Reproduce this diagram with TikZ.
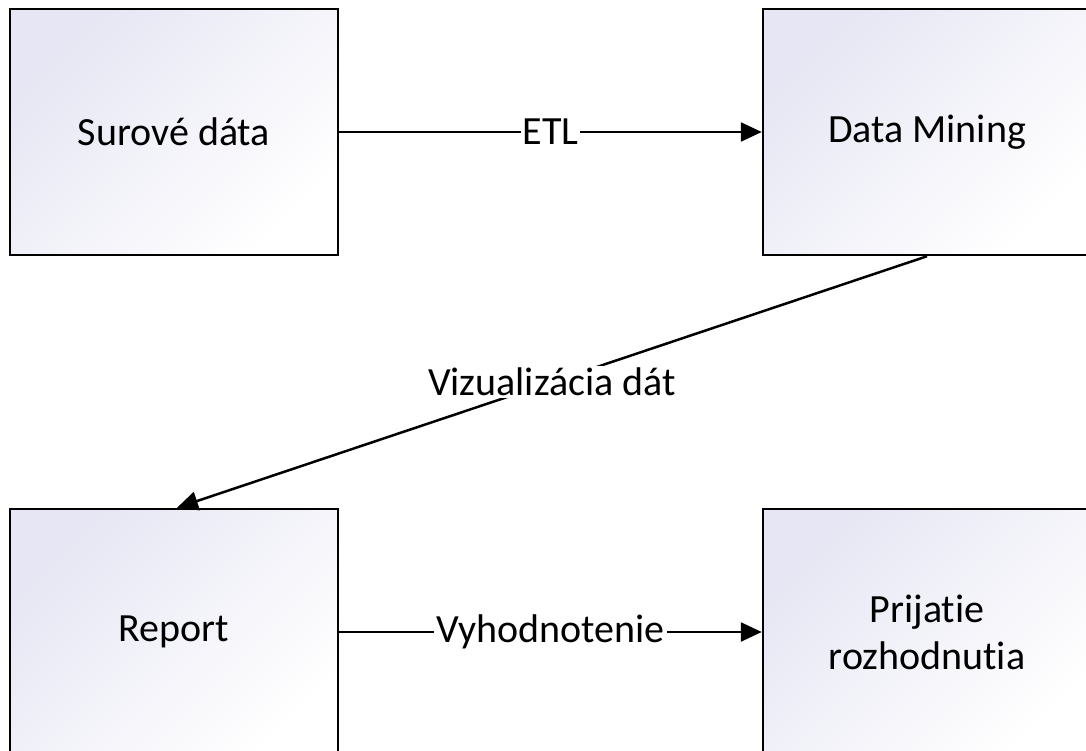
\documentclass[tikz,border=0pt]{standalone}
\usepackage{fontspec}
\setmainfont{Carlito}[Ligatures={NoCommon,NoContextual,NoRare}]
\usetikzlibrary{arrows.meta}
\definecolor{lav}{HTML}{E6E6F4}
\begin{document}
\begin{tikzpicture}[x=1pt,y=-1pt,
  box/.style={draw=black, line width=2.5pt, minimum width=328pt, minimum height=246pt,
    top color=lav, bottom color=white, shading angle=45, align=center,
    font=\fontsize{40}{47}\selectfont, inner sep=0pt},
  conn/.style={line width=2.5pt, -{Triangle[length=21pt,width=19pt]}},
  lbl/.style={fill=white, inner sep=2pt, font=\fontsize{40}{47}\selectfont}]
\useasboundingbox (0,0) rectangle (1086,751);
\clip (0,0) rectangle (1086,751);
\fill[white] (0,0) rectangle (1086,751);
\node[box] (raw) at (174,132) {Surové dáta};
\node[box] (dm) at (927,132) {Data Mining};
\node[box] (rep) at (174,632) {Report};
\node[box] (dec) at (927,632) {Prijatie\\rozhodnutia};
\draw[conn] (raw) -- node[lbl] {ETL} (dm);
\draw[conn] (dm.south) -- node[lbl] {Vizualizácia dát} ([xshift=3pt]rep.north);
\draw[conn] (rep) -- node[lbl] {Vyhodnotenie} (dec);
\end{tikzpicture}
\end{document}
